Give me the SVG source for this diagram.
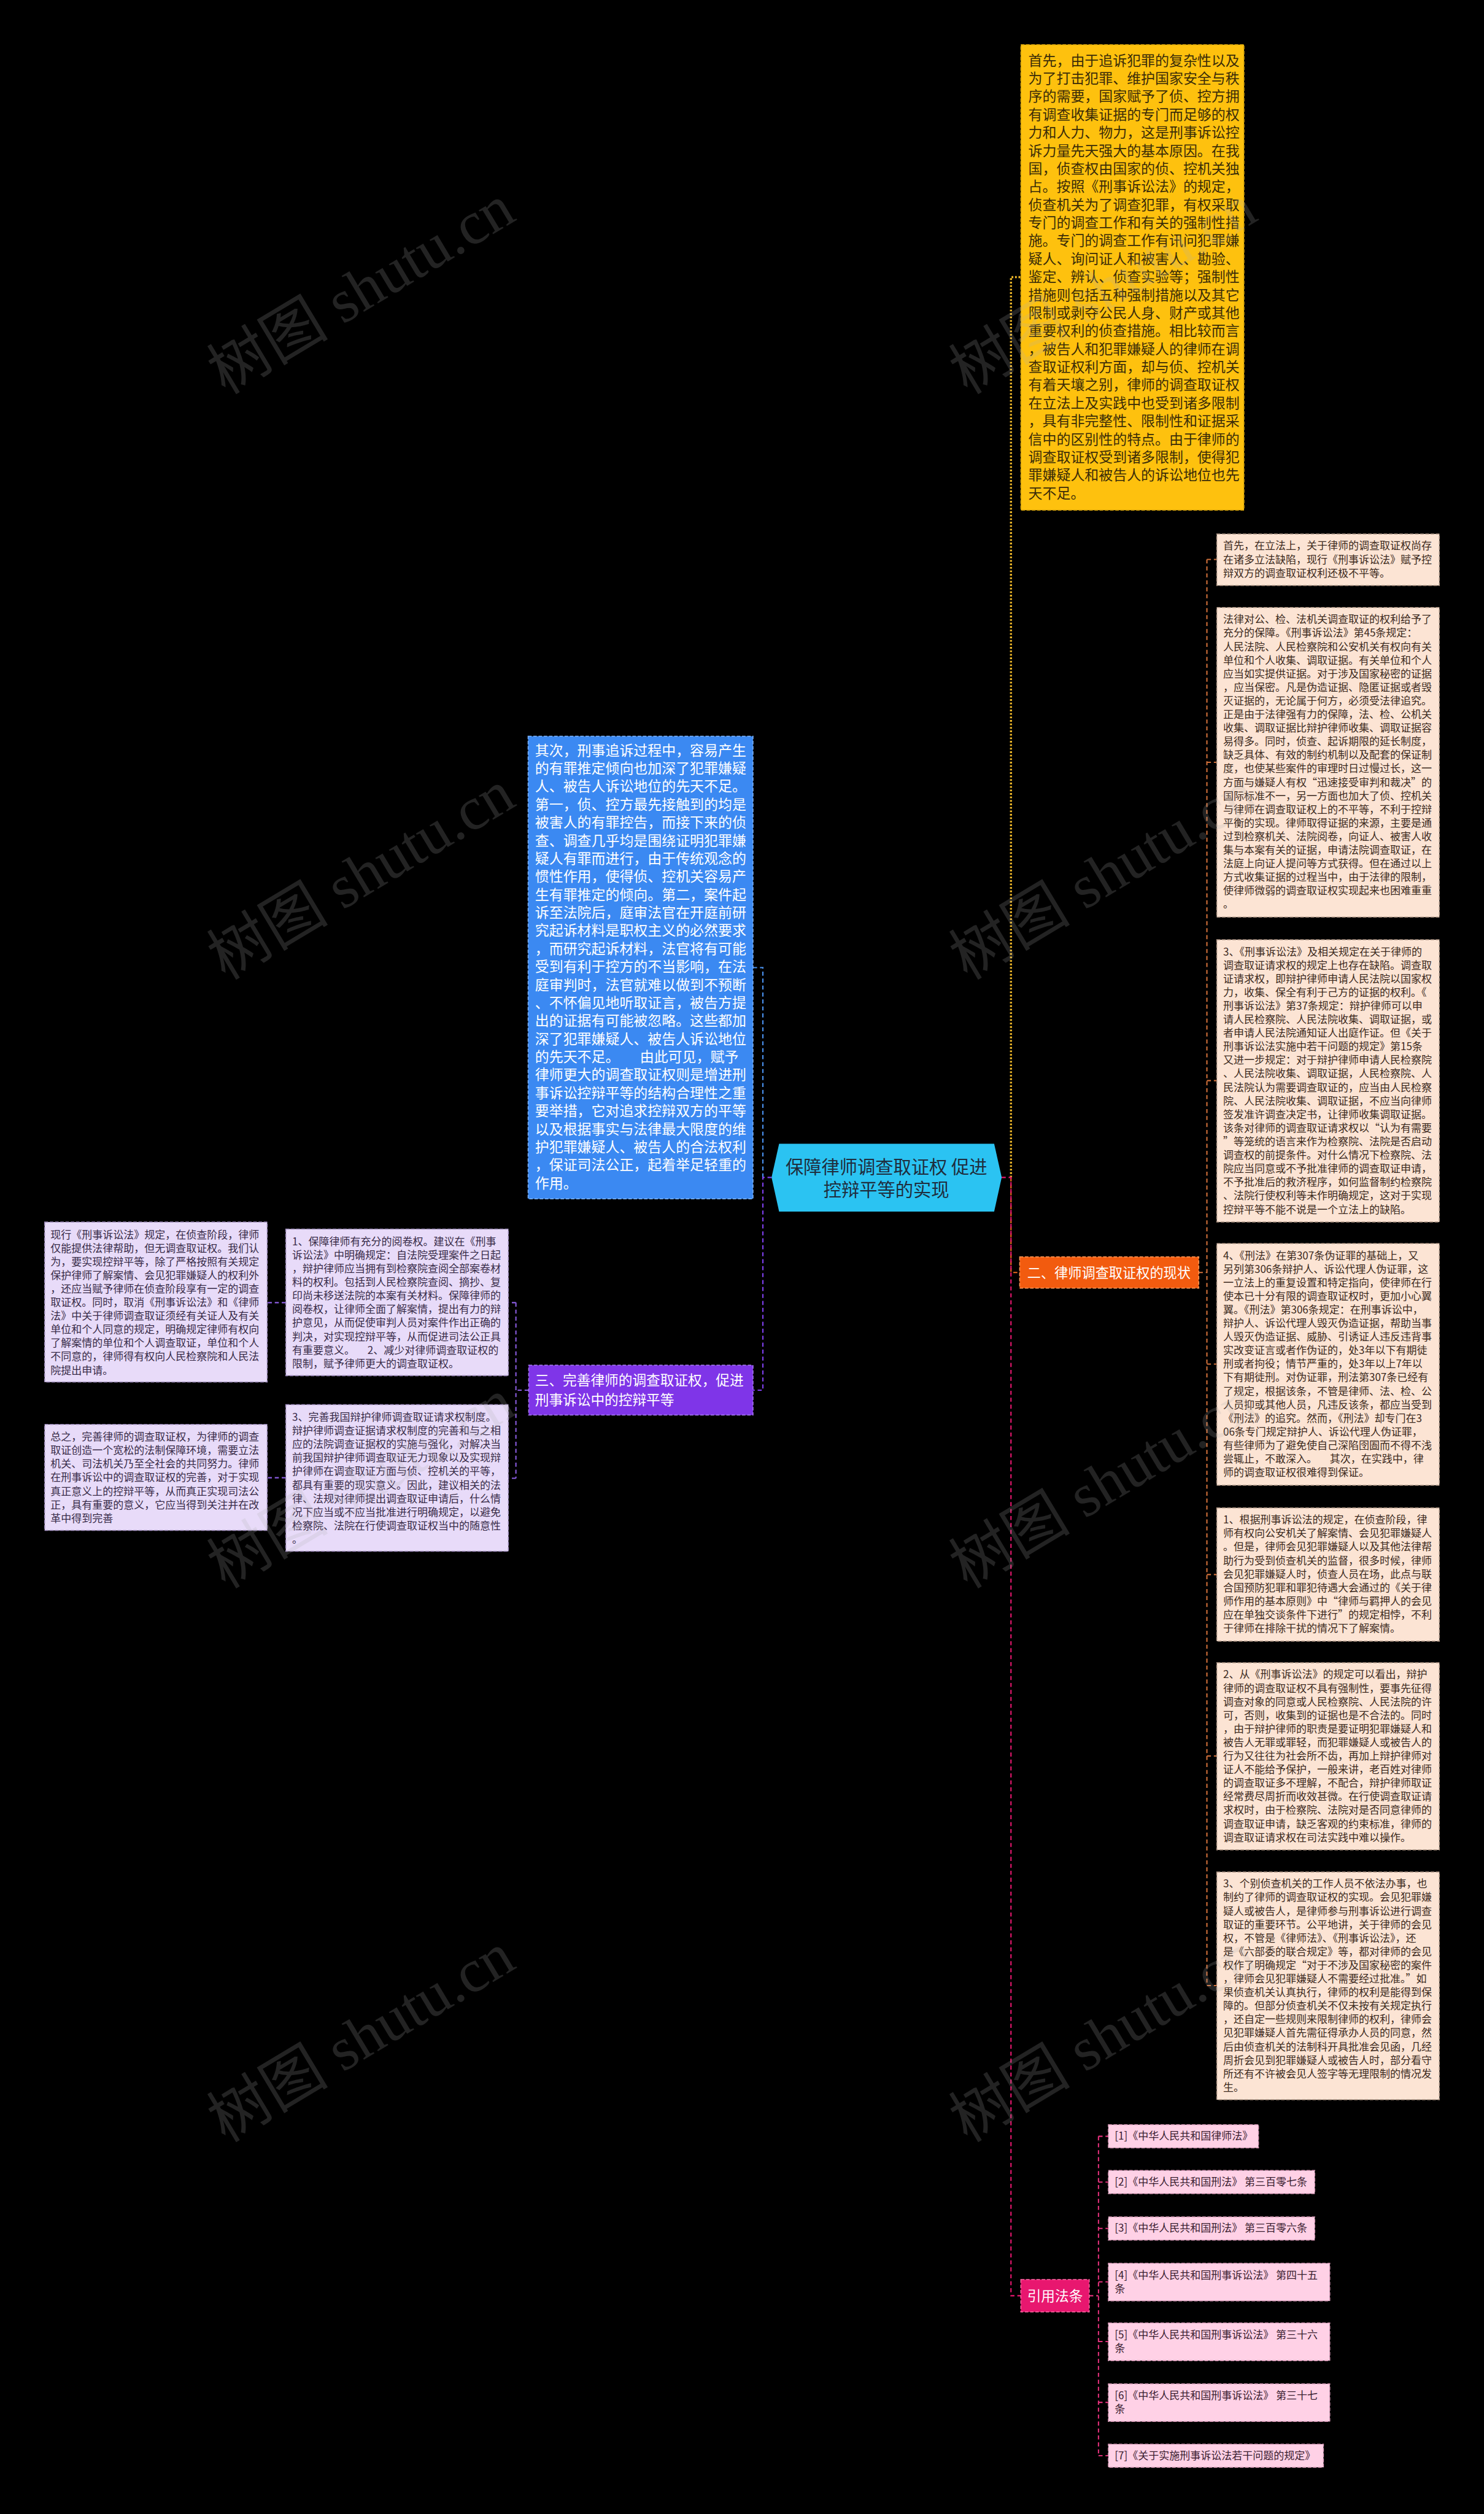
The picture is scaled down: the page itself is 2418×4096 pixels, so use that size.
<svg xmlns="http://www.w3.org/2000/svg" width="2418" height="4096" viewBox="0 0 2418 4096">
<defs>
<style>
.f{font-family:"Noto Sans CJK SC","Noto Sans",sans-serif;}
.big{font-size:24.3px;}
.sm{font-size:18px;}
.dk{fill:#3a2c08;}
.wh{fill:#ffffff;}
.pe{fill:#3c2a20;}
.lv{fill:#382b48;}
.rf{fill:#3a2030;}
.c{fill:none;stroke-width:2.2;stroke-dasharray:7 5;}
.bx{stroke-width:1.6;stroke-dasharray:6 3;}
.wm{font-family:"Liberation Serif","Noto Sans CJK SC",serif;font-size:105px;fill:#b0b0b0;opacity:0.2;}
</style>
</defs>
<rect width="2418" height="4096" fill="#000"/>
<g transform="scale(0.94453)">
<g id="connectors">
<path class="c" stroke="#4b93f2" d="M1316,2031 V1669 H1299"/>
<path class="c" stroke="#8040f0" d="M1331,2031 H1316 V2398 H1299"/>
<path fill="none" stroke="#f0b828" stroke-width="3.5" stroke-dasharray="3 3" d="M1744,2031 V478 H1761"/>
<path class="c" stroke="#f06a1e" d="M1744,2031 V2195 H1759"/>
<path class="c" stroke="#e8176f" d="M1728,2031 H1744 V3960 H1761"/>
<path class="c" stroke="#d0703a" d="M2068,2195 H2082 M2082,965 V3425 M2082,965 H2099 M2082,1315 H2099 M2082,1864 H2099 M2082,2353 H2099 M2082,2716 H2099 M2082,3029 H2099 M2082,3425 H2099"/>
<path class="c" stroke="#8a5ce0" d="M912,2398 H890 M890,2247 V2550 M890,2247 H877 M890,2550 H877 M493,2247 H461 M493,2549 H461"/>
<path class="c" stroke="#e0307a" d="M1879,3960 H1895 M1895,3685 V4236 M1895,3685 H1912 M1895,3764 H1912 M1895,3844 H1912 M1895,3936 H1912 M1895,4039 H1912 M1895,4144 H1912 M1895,4236 H1912"/>
</g>

<g id="root">
<polygon points="1331,2031 1344,1973 1715,1973 1728,2031 1715,2090 1344,2090" fill="#2bc3f2"/>
<text class="f" font-size="31" fill="#1f2d3d" text-anchor="middle"><tspan x="1529" y="2024">保障律师调查取证权 促进</tspan><tspan x="1529" y="2064">控辩平等的实现</tspan></text>
</g>

<g id="yellow">
<rect class="bx" x="1761" y="77" width="385" height="803" fill="#fec10e" stroke="#c99a0a"/>
<text class="f big dk">
<tspan x="1774" y="113">首先，由于追诉犯罪的复杂性以及</tspan>
<tspan x="1774" dy="31.1">为了打击犯罪、维护国家安全与秩</tspan>
<tspan x="1774" dy="31.1">序的需要，国家赋予了侦、控方拥</tspan>
<tspan x="1774" dy="31.1">有调查收集证据的专门而足够的权</tspan>
<tspan x="1774" dy="31.1">力和人力、物力，这是刑事诉讼控</tspan>
<tspan x="1774" dy="31.1">诉力量先天强大的基本原因。在我</tspan>
<tspan x="1774" dy="31.1">国，侦查权由国家的侦、控机关独</tspan>
<tspan x="1774" dy="31.1">占。按照《刑事诉讼法》的规定，</tspan>
<tspan x="1774" dy="31.1">侦查机关为了调查犯罪，有权采取</tspan>
<tspan x="1774" dy="31.1">专门的调查工作和有关的强制性措</tspan>
<tspan x="1774" dy="31.1">施。专门的调查工作有讯问犯罪嫌</tspan>
<tspan x="1774" dy="31.1">疑人、询问证人和被害人、勘验、</tspan>
<tspan x="1774" dy="31.1">鉴定、辨认、侦查实验等；强制性</tspan>
<tspan x="1774" dy="31.1">措施则包括五种强制措施以及其它</tspan>
<tspan x="1774" dy="31.1">限制或剥夺公民人身、财产或其他</tspan>
<tspan x="1774" dy="31.1">重要权利的侦查措施。相比较而言</tspan>
<tspan x="1774" dy="31.1">，被告人和犯罪嫌疑人的律师在调</tspan>
<tspan x="1774" dy="31.1">查取证权利方面，却与侦、控机关</tspan>
<tspan x="1774" dy="31.1">有着天壤之别，律师的调查取证权</tspan>
<tspan x="1774" dy="31.1">在立法上及实践中也受到诸多限制</tspan>
<tspan x="1774" dy="31.1">，具有非完整性、限制性和证据采</tspan>
<tspan x="1774" dy="31.1">信中的区别性的特点。由于律师的</tspan>
<tspan x="1774" dy="31.1">调查取证权受到诸多限制，使得犯</tspan>
<tspan x="1774" dy="31.1">罪嫌疑人和被告人的诉讼地位也先</tspan>
<tspan x="1774" dy="31.1">天不足。</tspan>
</text>
</g>

<g id="blue">
<rect class="bx" x="911" y="1270" width="388" height="798" fill="#3b89f2" stroke="#7db3fa"/>
<text class="f big wh">
<tspan x="923" y="1303">其次，刑事追诉过程中，容易产生</tspan>
<tspan x="923" dy="31.1">的有罪推定倾向也加深了犯罪嫌疑</tspan>
<tspan x="923" dy="31.1">人、被告人诉讼地位的先天不足。</tspan>
<tspan x="923" dy="31.1">第一，侦、控方最先接触到的均是</tspan>
<tspan x="923" dy="31.1">被害人的有罪控告，而接下来的侦</tspan>
<tspan x="923" dy="31.1">查、调查几乎均是围绕证明犯罪嫌</tspan>
<tspan x="923" dy="31.1">疑人有罪而进行，由于传统观念的</tspan>
<tspan x="923" dy="31.1">惯性作用，使得侦、控机关容易产</tspan>
<tspan x="923" dy="31.1">生有罪推定的倾向。第二，案件起</tspan>
<tspan x="923" dy="31.1">诉至法院后，庭审法官在开庭前研</tspan>
<tspan x="923" dy="31.1">究起诉材料是职权主义的必然要求</tspan>
<tspan x="923" dy="31.1">，而研究起诉材料，法官将有可能</tspan>
<tspan x="923" dy="31.1">受到有利于控方的不当影响，在法</tspan>
<tspan x="923" dy="31.1">庭审判时，法官就难以做到不预断</tspan>
<tspan x="923" dy="31.1">、不怀偏见地听取证言，被告方提</tspan>
<tspan x="923" dy="31.1">出的证据有可能被忽略。这些都加</tspan>
<tspan x="923" dy="31.1">深了犯罪嫌疑人、被告人诉讼地位</tspan>
<tspan x="923" dy="31.1">的先天不足。</tspan><tspan x="1104">由此可见，赋予</tspan>
<tspan x="923" dy="31.1">律师更大的调查取证权则是增进刑</tspan>
<tspan x="923" dy="31.1">事诉讼控辩平等的结构合理性之重</tspan>
<tspan x="923" dy="31.1">要举措，它对追求控辩双方的平等</tspan>
<tspan x="923" dy="31.1">以及根据事实与法律最大限度的维</tspan>
<tspan x="923" dy="31.1">护犯罪嫌疑人、被告人的合法权利</tspan>
<tspan x="923" dy="31.1">，保证司法公正，起着举足轻重的</tspan>
<tspan x="923" dy="31.1">作用。</tspan>
</text>
</g>

<g id="orange">
<rect class="bx" x="1759" y="2168" width="309" height="54" fill="#f25b0f" stroke="#ff9a5a"/>
<text class="f wh" font-size="23.5" x="1772" y="2204">二、律师调查取证权的现状</text>
</g>

<g id="purple">
<rect class="bx" x="912" y="2355" width="387" height="86" fill="#7f35e8" stroke="#a77af2"/>
<text class="f wh" font-size="24"><tspan x="923" y="2390">三、完善律师的调查取证权，促进</tspan><tspan x="923" y="2423">刑事诉讼中的控辩平等</tspan></text>
</g>

<g id="pink">
<rect class="bx" x="1761" y="3932" width="118" height="56" fill="#e8176f" stroke="#ff6aa5"/>
<text class="f wh" font-size="24" text-anchor="middle" x="1820" y="3969">引用法条</text>
</g>

<g id="p1">
<rect class="bx" x="2099" y="921" width="384" height="89" fill="#fce4d4" stroke="#a89080"/>
<text class="f sm pe">
<tspan x="2110" y="948">首先，在立法上，关于律师的调查取证权尚存</tspan>
<tspan x="2110" dy="23.4">在诸多立法缺陷，现行《刑事诉讼法》赋予控</tspan>
<tspan x="2110" dy="23.4">辩双方的调查取证权利还极不平等。</tspan>
</text>
</g>

<g id="p2">
<rect class="bx" x="2099" y="1048" width="384" height="534" fill="#fce4d4" stroke="#a89080"/>
<text class="f sm pe">
<tspan x="2110" y="1075">法律对公、检、法机关调查取证的权利给予了</tspan>
<tspan x="2110" dy="23.4">充分的保障。《刑事诉讼法》第45条规定：</tspan>
<tspan x="2110" dy="23.4">人民法院、人民检察院和公安机关有权向有关</tspan>
<tspan x="2110" dy="23.4">单位和个人收集、调取证据。有关单位和个人</tspan>
<tspan x="2110" dy="23.4">应当如实提供证据。对于涉及国家秘密的证据</tspan>
<tspan x="2110" dy="23.4">，应当保密。凡是伪造证据、隐匿证据或者毁</tspan>
<tspan x="2110" dy="23.4">灭证据的，无论属于何方，必须受法律追究。</tspan>
<tspan x="2110" dy="23.4">正是由于法律强有力的保障，法、检、公机关</tspan>
<tspan x="2110" dy="23.4">收集、调取证据比辩护律师收集、调取证据容</tspan>
<tspan x="2110" dy="23.4">易得多。同时，侦查、起诉期限的延长制度，</tspan>
<tspan x="2110" dy="23.4">缺乏具体、有效的制约机制以及配套的保证制</tspan>
<tspan x="2110" dy="23.4">度，也使某些案件的审理时日过慢过长，这一</tspan>
<tspan x="2110" dy="23.4">方面与嫌疑人有权“迅速接受审判和裁决”的</tspan>
<tspan x="2110" dy="23.4">国际标准不一，另一方面也加大了侦、控机关</tspan>
<tspan x="2110" dy="23.4">与律师在调查取证权上的不平等，不利于控辩</tspan>
<tspan x="2110" dy="23.4">平衡的实现。律师取得证据的来源，主要是通</tspan>
<tspan x="2110" dy="23.4">过到检察机关、法院阅卷，向证人、被害人收</tspan>
<tspan x="2110" dy="23.4">集与本案有关的证据，申请法院调查取证，在</tspan>
<tspan x="2110" dy="23.4">法庭上向证人提问等方式获得。但在通过以上</tspan>
<tspan x="2110" dy="23.4">方式收集证据的过程当中，由于法律的限制，</tspan>
<tspan x="2110" dy="23.4">使律师微弱的调查取证权实现起来也困难重重</tspan>
<tspan x="2110" dy="23.4">。</tspan>
</text>
</g>

<g id="p3">
<rect class="bx" x="2099" y="1621" width="384" height="487" fill="#fce4d4" stroke="#a89080"/>
<text class="f sm pe">
<tspan x="2110" y="1648">3、《刑事诉讼法》及相关规定在关于律师的</tspan>
<tspan x="2110" dy="23.4">调查取证请求权的规定上也存在缺陷。调查取</tspan>
<tspan x="2110" dy="23.4">证请求权，即辩护律师申请人民法院以国家权</tspan>
<tspan x="2110" dy="23.4">力，收集、保全有利于己方的证据的权利。《</tspan>
<tspan x="2110" dy="23.4">刑事诉讼法》第37条规定：辩护律师可以申</tspan>
<tspan x="2110" dy="23.4">请人民检察院、人民法院收集、调取证据，或</tspan>
<tspan x="2110" dy="23.4">者申请人民法院通知证人出庭作证。但《关于</tspan>
<tspan x="2110" dy="23.4">刑事诉讼法实施中若干问题的规定》第15条</tspan>
<tspan x="2110" dy="23.4">又进一步规定：对于辩护律师申请人民检察院</tspan>
<tspan x="2110" dy="23.4">、人民法院收集、调取证据，人民检察院、人</tspan>
<tspan x="2110" dy="23.4">民法院认为需要调查取证的，应当由人民检察</tspan>
<tspan x="2110" dy="23.4">院、人民法院收集、调取证据，不应当向律师</tspan>
<tspan x="2110" dy="23.4">签发准许调查决定书，让律师收集调取证据。</tspan>
<tspan x="2110" dy="23.4">该条对律师的调查取证请求权以“认为有需要</tspan>
<tspan x="2110" dy="23.4">”等笼统的语言来作为检察院、法院是否启动</tspan>
<tspan x="2110" dy="23.4">调查权的前提条件。对什么情况下检察院、法</tspan>
<tspan x="2110" dy="23.4">院应当同意或不予批准律师的调查取证申请，</tspan>
<tspan x="2110" dy="23.4">不予批准后的救济程序，如何监督制约检察院</tspan>
<tspan x="2110" dy="23.4">、法院行使权利等未作明确规定，这对于实现</tspan>
<tspan x="2110" dy="23.4">控辩平等不能不说是一个立法上的缺陷。</tspan>
</text>
</g>

<g id="p4">
<rect class="bx" x="2099" y="2145" width="384" height="417" fill="#fce4d4" stroke="#a89080"/>
<text class="f sm pe">
<tspan x="2110" y="2172">4、《刑法》在第307条伪证罪的基础上，又</tspan>
<tspan x="2110" dy="23.4">另列第306条辩护人、诉讼代理人伪证罪，这</tspan>
<tspan x="2110" dy="23.4">一立法上的重复设置和特定指向，使律师在行</tspan>
<tspan x="2110" dy="23.4">使本已十分有限的调查取证权时，更加小心翼</tspan>
<tspan x="2110" dy="23.4">翼。《刑法》第306条规定：在刑事诉讼中，</tspan>
<tspan x="2110" dy="23.4">辩护人、诉讼代理人毁灭伪造证据，帮助当事</tspan>
<tspan x="2110" dy="23.4">人毁灭伪造证据、威胁、引诱证人违反违背事</tspan>
<tspan x="2110" dy="23.4">实改变证言或者作伪证的，处3年以下有期徒</tspan>
<tspan x="2110" dy="23.4">刑或者拘役；情节严重的，处3年以上7年以</tspan>
<tspan x="2110" dy="23.4">下有期徒刑。对伪证罪，刑法第307条已经有</tspan>
<tspan x="2110" dy="23.4">了规定，根据该条，不管是律师、法、检、公</tspan>
<tspan x="2110" dy="23.4">人员抑或其他人员，凡违反该条，都应当受到</tspan>
<tspan x="2110" dy="23.4">《刑法》的追究。然而，《刑法》却专门在3</tspan>
<tspan x="2110" dy="23.4">06条专门规定辩护人、诉讼代理人伪证罪，</tspan>
<tspan x="2110" dy="23.4">有些律师为了避免使自己深陷囹圄而不得不浅</tspan>
<tspan x="2110" dy="23.4">尝辄止，不敢深入。</tspan><tspan x="2294">其次，在实践中，律</tspan>
<tspan x="2110" dy="23.4">师的调查取证权很难得到保证。</tspan>
</text>
</g>

<g id="p5">
<rect class="bx" x="2099" y="2601" width="384" height="230" fill="#fce4d4" stroke="#a89080"/>
<text class="f sm pe">
<tspan x="2110" y="2628">1、根据刑事诉讼法的规定，在侦查阶段，律</tspan>
<tspan x="2110" dy="23.4">师有权向公安机关了解案情、会见犯罪嫌疑人</tspan>
<tspan x="2110" dy="23.4">。但是，律师会见犯罪嫌疑人以及其他法律帮</tspan>
<tspan x="2110" dy="23.4">助行为受到侦查机关的监督，很多时候，律师</tspan>
<tspan x="2110" dy="23.4">会见犯罪嫌疑人时，侦查人员在场，此点与联</tspan>
<tspan x="2110" dy="23.4">合国预防犯罪和罪犯待遇大会通过的《关于律</tspan>
<tspan x="2110" dy="23.4">师作用的基本原则》中“律师与羁押人的会见</tspan>
<tspan x="2110" dy="23.4">应在单独交谈条件下进行”的规定相悖，不利</tspan>
<tspan x="2110" dy="23.4">于律师在排除干扰的情况下了解案情。</tspan>
</text>
</g>

<g id="p6">
<rect class="bx" x="2099" y="2868" width="384" height="323" fill="#fce4d4" stroke="#a89080"/>
<text class="f sm pe">
<tspan x="2110" y="2895">2、从《刑事诉讼法》的规定可以看出，辩护</tspan>
<tspan x="2110" dy="23.4">律师的调查取证权不具有强制性，要事先征得</tspan>
<tspan x="2110" dy="23.4">调查对象的同意或人民检察院、人民法院的许</tspan>
<tspan x="2110" dy="23.4">可，否则，收集到的证据也是不合法的。同时</tspan>
<tspan x="2110" dy="23.4">，由于辩护律师的职责是要证明犯罪嫌疑人和</tspan>
<tspan x="2110" dy="23.4">被告人无罪或罪轻，而犯罪嫌疑人或被告人的</tspan>
<tspan x="2110" dy="23.4">行为又往往为社会所不齿，再加上辩护律师对</tspan>
<tspan x="2110" dy="23.4">证人不能给予保护，一般来讲，老百姓对律师</tspan>
<tspan x="2110" dy="23.4">的调查取证多不理解，不配合，辩护律师取证</tspan>
<tspan x="2110" dy="23.4">经常费尽周折而收效甚微。在行使调查取证请</tspan>
<tspan x="2110" dy="23.4">求权时，由于检察院、法院对是否同意律师的</tspan>
<tspan x="2110" dy="23.4">调查取证申请，缺乏客观的约束标准，律师的</tspan>
<tspan x="2110" dy="23.4">调查取证请求权在司法实践中难以操作。</tspan>
</text>
</g>

<g id="p7">
<rect class="bx" x="2099" y="3229" width="384" height="393" fill="#fce4d4" stroke="#a89080"/>
<text class="f sm pe">
<tspan x="2110" y="3256">3、个别侦查机关的工作人员不依法办事，也</tspan>
<tspan x="2110" dy="23.4">制约了律师的调查取证权的实现。会见犯罪嫌</tspan>
<tspan x="2110" dy="23.4">疑人或被告人，是律师参与刑事诉讼进行调查</tspan>
<tspan x="2110" dy="23.4">取证的重要环节。公平地讲，关于律师的会见</tspan>
<tspan x="2110" dy="23.4">权，不管是《律师法》、《刑事诉讼法》，还</tspan>
<tspan x="2110" dy="23.4">是《六部委的联合规定》等，都对律师的会见</tspan>
<tspan x="2110" dy="23.4">权作了明确规定“对于不涉及国家秘密的案件</tspan>
<tspan x="2110" dy="23.4">，律师会见犯罪嫌疑人不需要经过批准。”如</tspan>
<tspan x="2110" dy="23.4">果侦查机关认真执行，律师的权利是能得到保</tspan>
<tspan x="2110" dy="23.4">障的。但部分侦查机关不仅未按有关规定执行</tspan>
<tspan x="2110" dy="23.4">，还自定一些规则来限制律师的权利，律师会</tspan>
<tspan x="2110" dy="23.4">见犯罪嫌疑人首先需征得承办人员的同意，然</tspan>
<tspan x="2110" dy="23.4">后由侦查机关的法制科开具批准会见函，几经</tspan>
<tspan x="2110" dy="23.4">周折会见到犯罪嫌疑人或被告人时，部分看守</tspan>
<tspan x="2110" dy="23.4">所还有不许被会见人签字等无理限制的情况发</tspan>
<tspan x="2110" dy="23.4">生。</tspan>
</text>
</g>

<g id="lA">
<rect class="bx" x="77" y="2108" width="384" height="276" fill="#e8dbf9" stroke="#9a88b8"/>
<text class="f sm lv">
<tspan x="87" y="2136">现行《刑事诉讼法》规定，在侦查阶段，律师</tspan>
<tspan x="87" dy="23.4">仅能提供法律帮助，但无调查取证权。我们认</tspan>
<tspan x="87" dy="23.4">为，要实现控辩平等，除了严格按照有关规定</tspan>
<tspan x="87" dy="23.4">保护律师了解案情、会见犯罪嫌疑人的权利外</tspan>
<tspan x="87" dy="23.4">，还应当赋予律师在侦查阶段享有一定的调查</tspan>
<tspan x="87" dy="23.4">取证权。同时，取消《刑事诉讼法》和《律师</tspan>
<tspan x="87" dy="23.4">法》中关于律师调查取证须经有关证人及有关</tspan>
<tspan x="87" dy="23.4">单位和个人同意的规定，明确规定律师有权向</tspan>
<tspan x="87" dy="23.4">了解案情的单位和个人调查取证，单位和个人</tspan>
<tspan x="87" dy="23.4">不同意的，律师得有权向人民检察院和人民法</tspan>
<tspan x="87" dy="23.4">院提出申请。</tspan>
</text>
</g>

<g id="lB">
<rect class="bx" x="77" y="2457" width="384" height="183" fill="#e8dbf9" stroke="#9a88b8"/>
<text class="f sm lv">
<tspan x="87" y="2485">总之，完善律师的调查取证权，为律师的调查</tspan>
<tspan x="87" dy="23.4">取证创造一个宽松的法制保障环境，需要立法</tspan>
<tspan x="87" dy="23.4">机关、司法机关乃至全社会的共同努力。律师</tspan>
<tspan x="87" dy="23.4">在刑事诉讼中的调查取证权的完善，对于实现</tspan>
<tspan x="87" dy="23.4">真正意义上的控辩平等，从而真正实现司法公</tspan>
<tspan x="87" dy="23.4">正，具有重要的意义，它应当得到关注并在改</tspan>
<tspan x="87" dy="23.4">革中得到完善</tspan>
</text>
</g>

<g id="lC">
<rect class="bx" x="493" y="2120" width="384" height="253" fill="#e8dbf9" stroke="#9a88b8"/>
<text class="f sm lv">
<tspan x="504" y="2148">1、保障律师有充分的阅卷权。建议在《刑事</tspan>
<tspan x="504" dy="23.4">诉讼法》中明确规定：自法院受理案件之日起</tspan>
<tspan x="504" dy="23.4">，辩护律师应当拥有到检察院查阅全部案卷材</tspan>
<tspan x="504" dy="23.4">料的权利。包括到人民检察院查阅、摘抄、复</tspan>
<tspan x="504" dy="23.4">印尚未移送法院的本案有关材料。保障律师的</tspan>
<tspan x="504" dy="23.4">阅卷权，让律师全面了解案情，提出有力的辩</tspan>
<tspan x="504" dy="23.4">护意见，从而促使审判人员对案件作出正确的</tspan>
<tspan x="504" dy="23.4">判决，对实现控辩平等，从而促进司法公正具</tspan>
<tspan x="504" dy="23.4">有重要意义。</tspan><tspan x="634">2、减少对律师调查取证权的</tspan>
<tspan x="504" dy="23.4">限制，赋予律师更大的调查取证权。</tspan>
</text>
</g>

<g id="lD">
<rect class="bx" x="493" y="2423" width="384" height="253" fill="#e8dbf9" stroke="#9a88b8"/>
<text class="f sm lv">
<tspan x="504" y="2451">3、完善我国辩护律师调查取证请求权制度。</tspan>
<tspan x="504" dy="23.4">辩护律师调查证据请求权制度的完善和与之相</tspan>
<tspan x="504" dy="23.4">应的法院调查证据权的实施与强化，对解决当</tspan>
<tspan x="504" dy="23.4">前我国辩护律师调查取证无力现象以及实现辩</tspan>
<tspan x="504" dy="23.4">护律师在调查取证方面与侦、控机关的平等，</tspan>
<tspan x="504" dy="23.4">都具有重要的现实意义。因此，建议相关的法</tspan>
<tspan x="504" dy="23.4">律、法规对律师提出调查取证申请后，什么情</tspan>
<tspan x="504" dy="23.4">况下应当或不应当批准进行明确规定，以避免</tspan>
<tspan x="504" dy="23.4">检察院、法院在行使调查取证权当中的随意性</tspan>
<tspan x="504" dy="23.4">。</tspan>
</text>
</g>

<g id="r1"><rect class="bx" x="1912" y="3665" width="259" height="40" fill="#ffd1e6" stroke="#d89ab8"/><text class="f sm rf" x="1923" y="3691">[1]《中华人民共和国律师法》</text></g>
<g id="r2"><rect class="bx" x="1912" y="3744" width="356" height="40" fill="#ffd1e6" stroke="#d89ab8"/><text class="f sm rf" x="1923" y="3770">[2]《中华人民共和国刑法》 第三百零七条</text></g>
<g id="r3"><rect class="bx" x="1912" y="3824" width="356" height="40" fill="#ffd1e6" stroke="#d89ab8"/><text class="f sm rf" x="1923" y="3850">[3]《中华人民共和国刑法》 第三百零六条</text></g>
<g id="r4"><rect class="bx" x="1912" y="3904" width="382" height="65" fill="#ffd1e6" stroke="#d89ab8"/><text class="f sm rf"><tspan x="1923" y="3931">[4]《中华人民共和国刑事诉讼法》 第四十五</tspan><tspan x="1923" dy="23.4">条</tspan></text></g>
<g id="r5"><rect class="bx" x="1912" y="4007" width="382" height="65" fill="#ffd1e6" stroke="#d89ab8"/><text class="f sm rf"><tspan x="1923" y="4034">[5]《中华人民共和国刑事诉讼法》 第三十六</tspan><tspan x="1923" dy="23.4">条</tspan></text></g>
<g id="r6"><rect class="bx" x="1912" y="4112" width="382" height="65" fill="#ffd1e6" stroke="#d89ab8"/><text class="f sm rf"><tspan x="1923" y="4139">[6]《中华人民共和国刑事诉讼法》 第三十七</tspan><tspan x="1923" dy="23.4">条</tspan></text></g>
<g id="r7"><rect class="bx" x="1912" y="4216" width="371" height="40" fill="#ffd1e6" stroke="#d89ab8"/><text class="f sm rf" x="1923" y="4242">[7]《关于实施刑事诉讼法若干问题的规定》</text></g>

<g id="watermarks">
<text class="wm" text-anchor="middle" transform="translate(641,530) rotate(-31)">树图 shutu.cn</text>
<text class="wm" text-anchor="middle" transform="translate(1921,530) rotate(-31)">树图 shutu.cn</text>
<text class="wm" text-anchor="middle" transform="translate(641,1540) rotate(-31)">树图 shutu.cn</text>
<text class="wm" text-anchor="middle" transform="translate(1921,1540) rotate(-31)">树图 shutu.cn</text>
<text class="wm" text-anchor="middle" transform="translate(641,2590) rotate(-31)">树图 shutu.cn</text>
<text class="wm" text-anchor="middle" transform="translate(1921,2590) rotate(-31)">树图 shutu.cn</text>
<text class="wm" text-anchor="middle" transform="translate(641,3545) rotate(-31)">树图 shutu.cn</text>
<text class="wm" text-anchor="middle" transform="translate(1921,3545) rotate(-31)">树图 shutu.cn</text>
</g>
</g>
</svg>
